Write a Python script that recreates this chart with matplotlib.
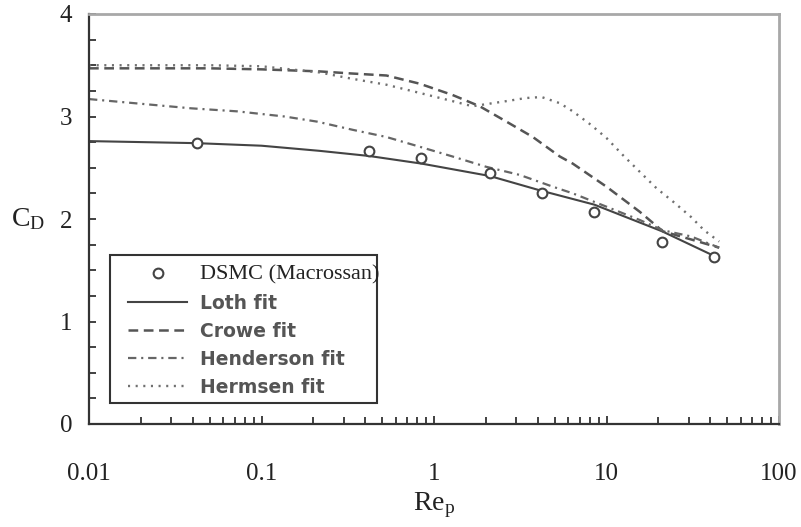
import matplotlib
matplotlib.use("Agg")
import matplotlib.pyplot as plt
from matplotlib.patches import Rectangle
from matplotlib.ticker import FixedLocator, NullFormatter, MultipleLocator

plt.rcParams["mathtext.fontset"] = "custom"
plt.rcParams["mathtext.rm"] = "Liberation Serif"
plt.rcParams["mathtext.it"] = "Liberation Serif:italic"
plt.rcParams["lines.scale_dashes"] = False

# DSMC reference points (Macrossan)
dsmc_re = [0.042, 0.42, 0.84, 2.1, 4.2, 8.5, 21, 42]
dsmc_cd = [2.744, 2.663, 2.598, 2.452, 2.251, 2.065, 1.779, 1.632]

# Drag correlations
loth_re = [0.01, 0.042, 0.1, 0.217, 0.42, 0.85, 2.1, 4.1, 8.5, 21, 42]
loth_cd = [2.76, 2.74, 2.715, 2.665, 2.615, 2.54, 2.42, 2.28, 2.14, 1.88, 1.64]

crowe_re = [0.01, 0.05, 0.1, 0.217, 0.33, 0.53, 0.826, 1.28, 1.84, 2.63, 3.74,
            5.36, 6.38, 10, 15.6, 21.2, 31, 45]
crowe_cd = [3.47, 3.47, 3.46, 3.44, 3.42, 3.40, 3.32, 3.21, 3.10, 2.95, 2.80,
            2.61, 2.54, 2.315, 2.07, 1.88, 1.80, 1.72]

henderson_re = [0.01, 0.039, 0.0726, 0.136, 0.21, 0.338, 0.53, 0.826, 1.28, 2.0,
                3.14, 4.89, 6.38, 10, 15.6, 21.2, 30.9, 45]
henderson_cd = [3.17, 3.08, 3.05, 3.00, 2.95, 2.87, 2.80, 2.705, 2.61, 2.51,
                2.43, 2.315, 2.25, 2.12, 1.99, 1.89, 1.83, 1.72]

hermsen_re = [0.01, 0.05, 0.1, 0.217, 0.33, 0.53, 0.826, 1.28, 1.67, 2.0, 2.63,
              3.4, 4.2, 5.36, 6.38, 8.1, 10, 12.5, 15.6, 19.5, 24.3, 30.9, 36.8, 45]
hermsen_cd = [3.50, 3.50, 3.49, 3.43, 3.37, 3.31, 3.23, 3.15, 3.10, 3.12, 3.15,
              3.18, 3.19, 3.13, 3.05, 2.92, 2.79, 2.62, 2.46, 2.30, 2.17, 2.02, 1.89, 1.78]

x_ticks = [0.01, 0.1, 1, 10, 100]
x_ticklabels = ["0.01", "0.1", "1", "10", "100"]
y_ticks = [0, 1, 2, 3, 4]

fig = plt.figure(figsize=(8.01, 5.27), dpi=100)
ax = fig.add_axes([89 / 801, 103 / 527, 690 / 801, 410 / 527])

ax.plot(loth_re, loth_cd, color="#444444", lw=1.5, ls="-", label="Loth fit")
ax.plot(crowe_re, crowe_cd, color="#555555", lw=1.8, ls=(0, (7, 4)), label="Crowe fit")
ax.plot(henderson_re, henderson_cd, color="#666666", lw=1.6,
        ls=(0, (6, 3.5, 1.5, 3.5)), label="Henderson fit")
ax.plot(hermsen_re, hermsen_cd, color="#707070", lw=1.7, ls=(0, (1.5, 4)),
        label="Hermsen fit")
ax.plot(dsmc_re, dsmc_cd, ls="none", marker="o", ms=7, mfc="white",
        mec="#444444", mew=1.5, label="DSMC (Macrossan)", zorder=5)

ax.set_xscale("log")
ax.set_xlim(0.01, 100)
ax.set_ylim(0, 4)
ax.xaxis.set_major_locator(FixedLocator(x_ticks))
ax.set_xticklabels(x_ticklabels)
ax.xaxis.set_minor_formatter(NullFormatter())
ax.set_yticks(y_ticks)
ax.yaxis.set_minor_locator(MultipleLocator(0.25))

serif = "Liberation Serif"
for lab in ax.get_xticklabels() + ax.get_yticklabels():
    lab.set_fontfamily(serif)
    lab.set_fontsize(18)
    lab.set_color("#222222")

ax.tick_params(axis="both", which="both", direction="in", color="#333333",
               top=False, right=False)
ax.tick_params(axis="x", which="major", length=6, width=1.3, pad=28)
ax.tick_params(axis="x", which="minor", length=5, width=1.3)
ax.tick_params(axis="y", which="major", length=5, width=1.3, pad=12)
ax.tick_params(axis="y", which="minor", length=5, width=1.3)

for side in ("left", "bottom"):
    ax.spines[side].set_color("#333333")
    ax.spines[side].set_linewidth(1.6)
for side in ("top", "right"):
    ax.spines[side].set_color("#a8a8a8")
    ax.spines[side].set_linewidth(2.0)

ax.set_xlabel(r"$\mathrm{Re}_\mathrm{p}$", fontsize=20, color="#222222",
              va="center")
ax.xaxis.set_label_coords(0.5, -0.198)
ax.set_ylabel(r"$\mathrm{C}_\mathrm{D}$", fontsize=20, color="#222222",
              rotation=0, ha="center", va="center")
ax.yaxis.set_label_coords(-0.088, 0.502)

# legend box
ax.add_patch(Rectangle((0.0304, 0.051), 0.3866, 0.361, transform=ax.transAxes,
                       facecolor="white", edgecolor="#333333", lw=1.5, zorder=6))

handles, labels = ax.get_legend_handles_labels()
order = [4, 0, 1, 2, 3]
leg = ax.legend([handles[i] for i in order], [labels[i] for i in order],
                loc="upper left", bbox_to_anchor=(0.0565, 0.387),
                borderaxespad=0, borderpad=0, frameon=False,
                prop={"family": "DejaVu Sans", "weight": "bold", "size": 13.5},
                handlelength=3.15, handletextpad=0.69, labelspacing=0.48)
leg.set_zorder(7)
texts = leg.get_texts()
texts[0].set_fontfamily(serif)
texts[0].set_fontweight("normal")
texts[0].set_fontsize(16)
texts[0].set_color("#222222")
for t in texts[1:]:
    t.set_color("#555555")

fig.savefig("out.png", dpi=100)
